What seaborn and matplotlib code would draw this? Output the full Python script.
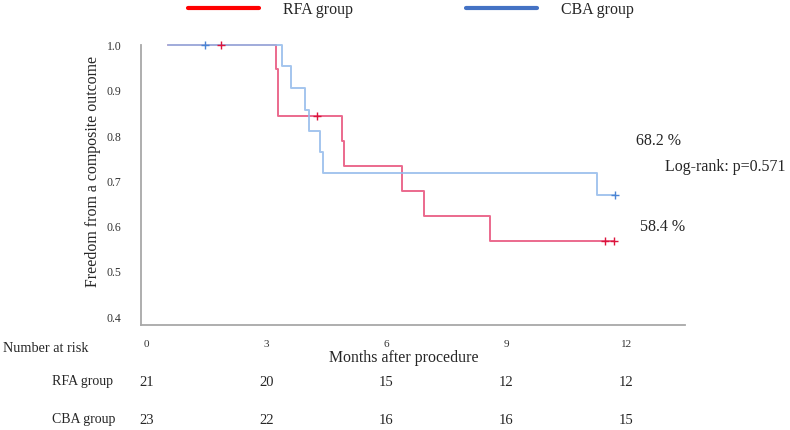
import matplotlib
matplotlib.use("Agg")
import matplotlib.pyplot as plt
from matplotlib.lines import Line2D
import matplotlib.transforms as mtransforms
import numpy as np
import pandas as pd
import seaborn as sns

# ---------------- data ----------------
rfa_time = [0.54, 3.24, 3.29, 4.89, 4.94, 6.39, 6.94, 8.59, 11.69]
rfa_surv = [1.000, 0.948, 0.845, 0.789, 0.734, 0.679, 0.624, 0.568, 0.568]
rfa_cens_time = [1.86, 4.26, 11.47, 11.69]
rfa_cens_surv = [1.000, 0.845, 0.568, 0.568]

cba_time = [0.54, 3.39, 3.61, 3.97, 4.07, 4.34, 4.42, 11.27, 11.71]
cba_surv = [1.000, 0.955, 0.906, 0.858, 0.811, 0.765, 0.718, 0.670, 0.670]
cba_cens_time = [1.46, 11.71]
cba_cens_surv = [1.000, 0.670]

risk_times = [0, 3, 6, 9, 12]
risk_rfa = [21, 20, 15, 12, 12]
risk_cba = [23, 22, 16, 16, 15]

x_ticks = [0, 3, 6, 9, 12]
y_ticks = [0.4, 0.5, 0.6, 0.7, 0.8, 0.9, 1.0]

groups = ["RFA group", "CBA group"]
line_colors = ["#e8507a", "#94bbeb"]
cens_colors = ["#dc143c", "#4a84d4"]
legend_colors = ["#ff0000", "#4472c4"]

# ---------------- style ----------------
sns.set_theme(style="white")
plt.rcParams["font.family"] = ["Liberation Serif", "DejaVu Serif"]

W, H = 790, 430
fig = plt.figure(figsize=(W / 100, H / 100), dpi=100)
ax = fig.add_axes([141 / W, 1 - 325 / H, (685 - 141) / W, (325 - 45) / H])

df = pd.concat([
    pd.DataFrame({"time": rfa_time, "surv": rfa_surv, "group": groups[0]}),
    pd.DataFrame({"time": cba_time, "surv": cba_surv, "group": groups[1]}),
])
cens = pd.concat([
    pd.DataFrame({"time": rfa_cens_time, "surv": rfa_cens_surv, "group": groups[0]}),
    pd.DataFrame({"time": cba_cens_time, "surv": cba_cens_surv, "group": groups[1]}),
])

for g, lc, cc in zip(groups, line_colors, cens_colors):
    sub = df[df["group"] == g]
    sns.lineplot(data=sub, x="time", y="surv", ax=ax, color=lc, lw=1.4,
                 estimator=None, sort=False, drawstyle="steps-post",
                 legend=False, clip_on=False, alpha=0.85)
    csub = cens[cens["group"] == g]
    sns.scatterplot(data=csub, x="time", y="surv", ax=ax, color=cc,
                    marker="+", s=30, linewidth=1.0, legend=False,
                    clip_on=False, zorder=5)

ax.set_xlim(-0.135, 13.465)
ax.set_ylim(0.383, 1.001)
ax.set_xticks(x_ticks)
ax.set_xticklabels([str(t) for t in x_ticks], fontsize=8)
ax.set_yticks(y_ticks)
ax.set_yticklabels([f"{v:.1f}" for v in y_ticks], fontsize=8.5)
ax.tick_params(axis="both", length=0, colors="#333333")
ax.tick_params(axis="x", pad=11)
ax.tick_params(axis="y", pad=14)
for s in ["top", "right"]:
    ax.spines[s].set_visible(False)
for s in ["left", "bottom"]:
    ax.spines[s].set_color("#a8a8a8")
    ax.spines[s].set_linewidth(1.3)
ax.set_xlabel("")
ax.set_ylabel("")

# axis titles
fig.text(404 / W, 1 - 358 / H, "Months after procedure", fontsize=11.4,
         ha="center", va="center")
fig.text(93 / W, 1 - 171 / H, "Freedom from a composite outcome",
         fontsize=11.4, rotation=90, ha="center", va="center")

# annotations
fig.text(659 / W, 1 - 141 / H, "68.2 %", fontsize=11.5, ha="center", va="center")
fig.text(665 / W, 1 - 167 / H, "Log-rank: p=0.571", fontsize=11.5, ha="left", va="center")
fig.text(663 / W, 1 - 227 / H, "58.4 %", fontsize=11.5, ha="center", va="center")

# number at risk table
fig.text(3 / W, 1 - 348 / H, "Number at risk", fontsize=10.3, ha="left", va="center")
fig.text(113 / W, 1 - 382 / H, "RFA group", fontsize=10, ha="right", va="center")
fig.text(115 / W, 1 - 420 / H, "CBA group", fontsize=10, ha="right", va="center")
trans = mtransforms.blended_transform_factory(ax.transData, fig.transFigure)
for t, a, b in zip(risk_times, risk_rfa, risk_cba):
    ax.text(t, 1 - 382 / H, str(a), transform=trans, fontsize=10.5,
            ha="center", va="center")
    ax.text(t, 1 - 420 / H, str(b), transform=trans, fontsize=10.5,
            ha="center", va="center")

# legend
handles = [Line2D([0], [0], color=c, lw=3) for c in legend_colors]
fig.legend(handles, groups, loc="center", bbox_to_anchor=(0.52, 1 - 10 / H),
           ncol=2, frameon=False, fontsize=11.4, handlelength=4.5,
           handletextpad=1.5, columnspacing=7.1, borderpad=0)

fig.savefig("out.png", dpi=100)
